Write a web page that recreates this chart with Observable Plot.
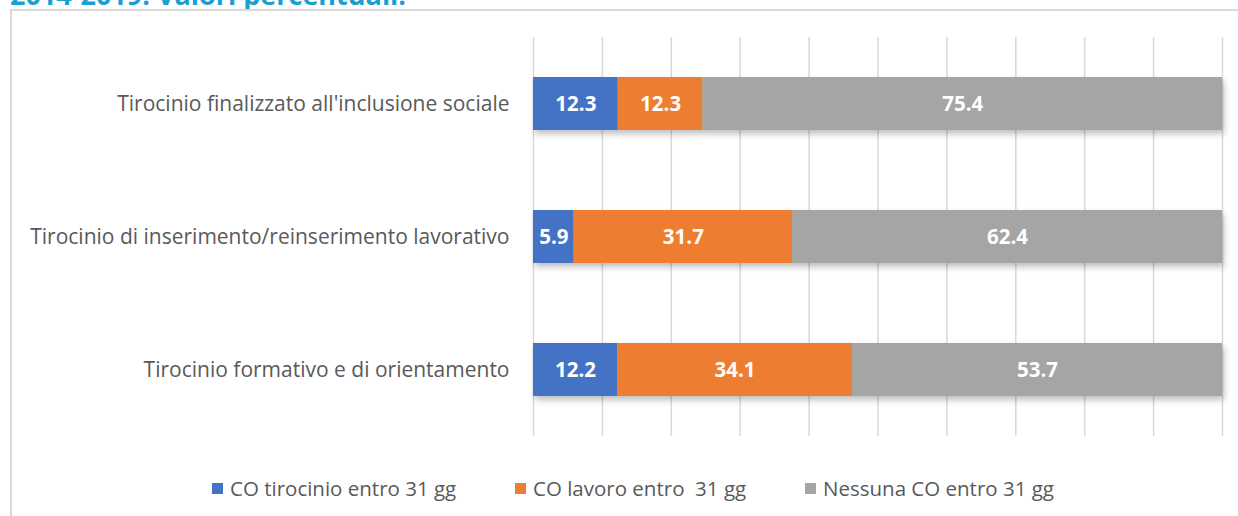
<!DOCTYPE html>
<html>
<head>
<meta charset="utf-8">
<script src="https://cdn.jsdelivr.net/npm/d3@7"></script>
<script src="https://cdn.jsdelivr.net/npm/@observablehq/plot@0.6"></script>
<style>
  html, body { margin: 0; padding: 0; background: #fff; width: 1238px; height: 516px; overflow: hidden; }
  body { position: relative; font-family: "Open Sans", sans-serif; }
  #title { position: absolute; left: 10px; top: -24px; font-size: 27px; font-weight: bold; color: #1a9fd2; white-space: nowrap; font-family: "Open Sans", sans-serif; }
  #frame { position: absolute; left: 10px; top: 9px; width: 1260px; height: 540px; border-left: 2px solid #d9d9d9; border-top: 2px solid #d9d9d9; }
  #chart { position: absolute; left: 0; top: 0; }
  #legend { position: absolute; top: 474px; left: 0; width: 1238px; height: 28px; font-size: 20.5px; color: #595959; }
  .item { position: absolute; top: 0; display: flex; align-items: center; white-space: pre; }
  .sw { width: 11px; height: 11px; margin-right: 7px; }
</style>
</head>
<body>
<div id="title">2014-2019: Valori percentuali.</div>
<div id="frame"></div>
<div id="chart"></div>
<div id="legend"></div>
<script>
const categories = [
  "Tirocinio finalizzato all'inclusione sociale",
  "Tirocinio di inserimento/reinserimento lavorativo",
  "Tirocinio formativo e di orientamento"
];
const seriesNames = ["CO tirocinio entro 31 gg", "CO lavoro entro  31 gg", "Nessuna CO entro 31 gg"];
const seriesColors = ["#4472c4", "#ed7d31", "#a5a5a5"];
const coTirocinio = [12.3, 5.9, 12.2];
const coLavoro = [12.3, 31.7, 34.1];
const nessunaCO = [75.4, 62.4, 53.7];
const gridTicks = [0, 10, 20, 30, 40, 50, 60, 70, 80, 90, 100];
const legendX = [212, 515, 805];

const seriesValues = [coTirocinio, coLavoro, nessunaCO];
const data = [];
categories.forEach((c, i) => {
  seriesNames.forEach((s, j) => {
    data.push({category: c, series: s, value: seriesValues[j][i]});
  });
});

const plot = Plot.plot({
  width: 1238,
  height: 460,
  marginLeft: 533,
  marginRight: 16,
  marginTop: 37,
  marginBottom: 24,
  style: { fontFamily: "Open Sans, sans-serif", background: "transparent", color: "#595959" },
  x: { domain: [0, 100], axis: null },
  y: { domain: categories, padding: 0, label: null },
  color: { domain: seriesNames, range: seriesColors },
  marks: [
    Plot.ruleX(gridTicks, { stroke: "#d9d9d9", strokeWidth: 1.5 }),
    Plot.barX(data, Plot.stackX({ x: "value", y: "category", fill: "series", order: seriesNames, insetTop: 40, insetBottom: 40, className: "bars" })),
    Plot.text(data, Plot.stackX({ x: "value", y: "category", z: "series", order: seriesNames, text: d => d.value.toFixed(1), fill: "white", fontSize: 20.5, fontWeight: "bold" })),
    Plot.axisY({ tickSize: 0, tickPadding: 24, fontSize: 21, fill: "#595959" })
  ]
});
document.getElementById("chart").appendChild(plot);
const bars = plot.querySelector(".bars");
if (bars) bars.style.filter = "drop-shadow(2px 4px 3px rgba(0,0,0,0.25))";

const legend = document.getElementById("legend");
seriesNames.forEach((s, j) => {
  const item = document.createElement("div");
  item.className = "item";
  item.style.left = legendX[j] + "px";
  const sw = document.createElement("span");
  sw.className = "sw";
  sw.style.background = seriesColors[j];
  const t = document.createElement("span");
  t.textContent = s;
  item.appendChild(sw);
  item.appendChild(t);
  legend.appendChild(item);
});
</script>
</body>
</html>
